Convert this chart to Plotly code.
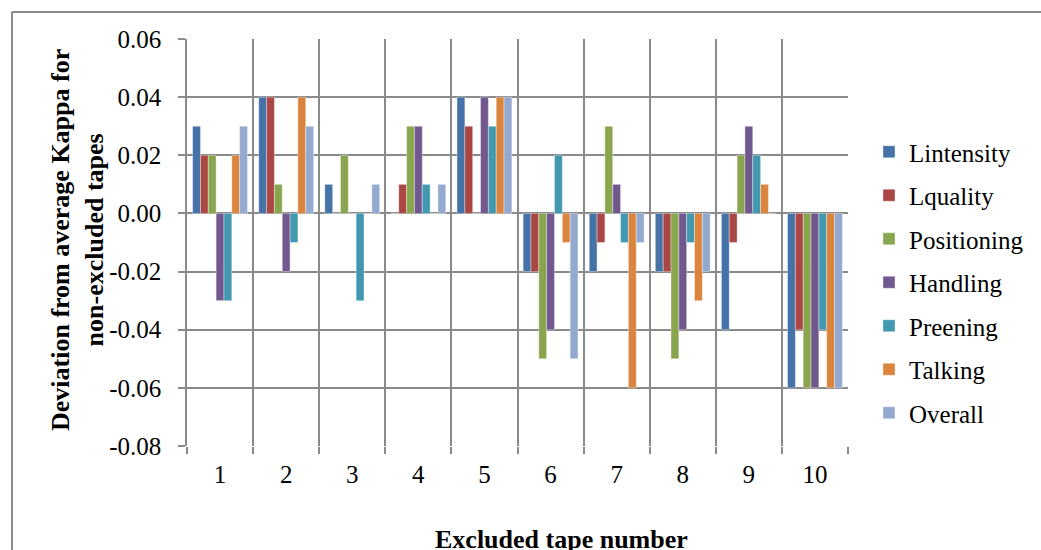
import plotly.graph_objects as go

tapes = ["1", "2", "3", "4", "5", "6", "7", "8", "9", "10"]
series_names = ["Lintensity", "Lquality", "Positioning", "Handling", "Preening", "Talking", "Overall"]
lintensity = [0.03, 0.04, 0.01, 0.00, 0.04, -0.02, -0.02, -0.02, -0.04, -0.06]
lquality = [0.02, 0.04, 0.00, 0.01, 0.03, -0.02, -0.01, -0.02, -0.01, -0.04]
positioning = [0.02, 0.01, 0.02, 0.03, 0.00, -0.05, 0.03, -0.05, 0.02, -0.06]
handling = [-0.03, -0.02, 0.00, 0.03, 0.04, -0.04, 0.01, -0.04, 0.03, -0.06]
preening = [-0.03, -0.01, -0.03, 0.01, 0.03, 0.02, -0.01, -0.01, 0.02, -0.04]
talking = [0.02, 0.04, 0.00, 0.00, 0.04, -0.01, -0.06, -0.03, 0.01, -0.06]
overall = [0.03, 0.03, 0.01, 0.01, 0.04, -0.05, -0.01, -0.02, 0.00, -0.06]
y_ticks = [0.06, 0.04, 0.02, 0.00, -0.02, -0.04, -0.06, -0.08]
y_tick_labels = ["%.2f" % v for v in y_ticks]

series_values = [lintensity, lquality, positioning, handling, preening, talking, overall]
colors = ["#4572A7", "#AA4643", "#89A54E", "#71588F", "#4198AF", "#DB843D", "#93A9CF"]

FONT = "Liberation Serif"

fig = go.Figure()
for name, vals, col in zip(series_names, series_values, colors):
    fig.add_trace(go.Bar(
        x=tapes, y=vals, name=name, legendgroup=name,
        marker=dict(color=col, line=dict(color="rgba(255,255,255,0.6)", width=0.6)),
    ))

L, R, T, B = 187, 193, 39, 104
W, H = 1041, 550
pw, ph = W - L - R, H - T - B

def px(x):
    return (x - L) / pw

def py(y):
    return (H - B - y) / ph

grid = "#8a8a8a"
fig.update_layout(
    width=W, height=H,
    margin=dict(l=L, r=R, t=T, b=B),
    paper_bgcolor="white", plot_bgcolor="white",
    barmode="group", bargap=0.17, bargroupgap=0,
    font=dict(family=FONT, size=25, color="black"),
    showlegend=True,
    legend=dict(x=px(869), xanchor="left", y=py(129), yanchor="top",
                font=dict(family=FONT, size=25), itemwidth=30,
                tracegroupgap=8, traceorder="grouped", bgcolor="rgba(0,0,0,0)"),
    xaxis=dict(type="category", tickson="boundaries", showgrid=True,
               gridcolor=grid, gridwidth=1.5, ticks="outside", ticklen=7,
               tickcolor=grid, tickwidth=1.5, range=[-0.5, 9.5],
               showline=False, tickfont=dict(family=FONT, size=25),
               ticklabelstandoff=11),
    yaxis=dict(range=[-0.08, 0.06], tickvals=y_ticks, ticktext=y_tick_labels,
               showgrid=True, gridcolor=grid, gridwidth=1.5, zeroline=False,
               ticks="outside", ticklen=7, tickcolor=grid, tickwidth=1.5,
               showline=True, linecolor=grid, linewidth=1.5,
               tickfont=dict(family=FONT, size=25), ticklabelstandoff=12),
    annotations=[
        dict(text="<b>Deviation from average Kappa for<br>non-excluded tapes</b>",
             xref="paper", yref="paper", x=px(77), y=py(240), textangle=-90,
             showarrow=False, xanchor="center", yanchor="middle",
             font=dict(family=FONT, size=26)),
        dict(text="<b>Excluded tape number</b>", xref="paper", yref="paper",
             x=px(561), y=py(539), showarrow=False, xanchor="center",
             yanchor="middle", font=dict(family=FONT, size=26)),
    ],
    shapes=[
        dict(type="line", xref="paper", yref="paper", x0=px(12), x1=px(12),
             y0=py(12), y1=py(560), line=dict(color="#8c8c8c", width=2)),
        dict(type="line", xref="paper", yref="paper", x0=px(12), x1=px(1045),
             y0=py(12), y1=py(12), line=dict(color="#8c8c8c", width=2)),
    ],
)

fig.write_html("out.html")
